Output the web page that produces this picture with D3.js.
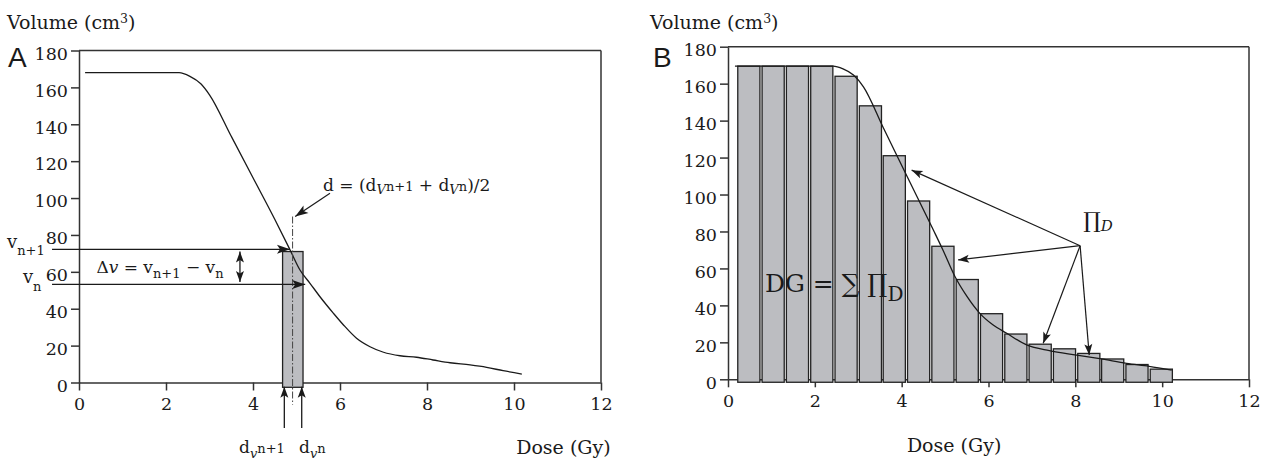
<!DOCTYPE html>
<html><head><meta charset="utf-8">
<script src="https://cdn.jsdelivr.net/npm/d3@7"></script>
<style>
body{margin:0;background:#fff}
svg text{font-family:"DejaVu Serif","Liberation Serif",serif;fill:#1a1a1a}
svg text.panel{font-family:"Liberation Sans",Arial,sans-serif}
</style>
</head><body>
<svg id="c" width="1273" height="460"></svg>
<script>
// ---------- data ----------
const xTicks = [0, 2, 4, 6, 8, 10, 12];
const yTicks = [0, 20, 40, 60, 80, 100, 120, 140, 160, 180];

// Panel A: cumulative DVH curve
const curveADose = [0.14, 2.3, 2.55, 2.8, 3.0, 3.5, 4.0, 4.5, 4.85, 5.08, 5.31, 5.54, 5.85, 6.08, 6.38, 6.69, 7.0, 7.38, 7.76, 8.14, 8.53, 8.99, 9.37, 9.75, 10.18];
const curveAVol  = [168, 168, 166, 162, 156, 133.5, 111, 88.5, 72, 61, 53.8, 46.5, 37.5, 31.2, 24, 19.4, 16.4, 14.5, 13.7, 12.2, 10.7, 9.5, 8.2, 6.4, 4.6];

// Panel B: curve + bars
const curveBDose = [0.16, 2.42, 2.65, 2.89, 3.12, 3.58, 4.12, 4.73, 4.95, 5.23, 5.5, 5.8, 6.1, 6.42, 6.88, 7.4, 8.03, 8.6, 9.18, 9.7, 10.22];
const curveBVol  = [169.5, 169.5, 168, 164.7, 158.3, 136, 110, 80.8, 70, 55.5, 45, 35.7, 29.5, 24.9, 18.6, 15.5, 13.1, 11, 8.6, 7, 5];
const barDose = [0.48, 1.04, 1.60, 2.16, 2.72, 3.28, 3.83, 4.39, 4.95, 5.51, 6.07, 6.63, 7.19, 7.75, 8.31, 8.86, 9.42, 9.98];
const barVol  = [169.5, 169.5, 169.5, 169.5, 164, 148, 121, 96.5, 72, 54, 35.5, 24.5, 19, 16.5, 14, 11, 8, 5.5];
const barWidthGy = 0.51;

// Panel A annotations (data units)
const aVArrows = [[-0.62, 4.85, 72.2], [-0.62, 5.2, 53.2]];   // from dose, to dose, volume
const aBin = [4.68, 5.15, 71];                                 // dose0, dose1, volume
const aMid = [4.91, 90, -12];                                  // dose, top, bottom
const aDv = [3.70, 71, 54.5];                                  // dose, top, bottom
const aDArrow = [[5.77, 102.6], [4.97, 90]];
const aBinArrows = [4.72, 5.12];
// Panel B annotations
const bHub = [8.11, 72.3];
const bTips = [[4.23, 113.2], [5.30, 64.6], [7.26, 19.5], [8.32, 13.1]];

// ---------- scales ----------
const xA = d3.scaleLinear([0, 12], [79, 601]);
const yA = d3.scaleLinear([0, 180], [382.5, 50.5]);
const xB = d3.scaleLinear([0, 12], [728, 1249]);
const yB = d3.scaleLinear([0, 180], [379.3, 46.7]);

const svg = d3.select('#c');
const ink = '#1a1a1a';

// markers
const defs = svg.append('defs');
function mk(id, L, W, back) {
  defs.append('marker').attr('id', id)
    .attr('viewBox', `${-L-1} ${-W/2-1} ${L+2} ${W+2}`)
    .attr('refX', 0).attr('refY', 0)
    .attr('markerUnits', 'userSpaceOnUse')
    .attr('markerWidth', L+2).attr('markerHeight', W+2)
    .attr('orient', 'auto-start-reverse')
    .append('path').attr('d', `M0,0 L${-L},${-W/2} L${-L+back},0 L${-L},${W/2} Z`).attr('fill', ink);
}
mk('ar', 13, 9, 3);
mk('ar2', 11, 8, 2.5);

function frame(x, y) {
  const g = svg.append('g');
  g.append('line').attr('x1', x(0)).attr('x2', x(12)).attr('y1', y(180)).attr('y2', y(180))
    .attr('stroke', '#333').attr('stroke-width', 1.5);
  g.append('line').attr('x1', x(12)).attr('x2', x(12)).attr('y1', y(180)).attr('y2', y(0))
    .attr('stroke', '#333').attr('stroke-width', 1.5);
  const ax = g.append('g').attr('transform', `translate(0,${y(0)})`)
    .call(d3.axisBottom(x).tickValues(xTicks).tickFormat(d3.format('d')).tickSize(8).tickPadding(7.5).tickSizeOuter(0));
  const ay = g.append('g').attr('transform', `translate(${x(0)},0)`)
    .call(d3.axisLeft(y).tickValues(yTicks).tickFormat(d3.format('d')).tickSize(8).tickPadding(3).tickSizeOuter(0));
  [ax, ay].forEach(a => {
    a.select('.domain').attr('stroke', '#333').attr('stroke-width', 1.5);
    a.selectAll('.tick line').attr('stroke', '#333').attr('stroke-width', 1.5);
    a.selectAll('.tick text').style('font-size', '17.5px').attr('fill', ink);
  });
  ay.selectAll('.tick text').attr('dy', '0.5em');
  return g;
}

function rich(x, y, parts, size) {
  const t = svg.append('text').attr('x', x).attr('y', y).attr('font-size', size);
  let cur = 0;
  parts.forEach(p => {
    const off = p.sub || 0;
    const s = t.append('tspan').text(p.t).attr('dy', off - cur);
    cur = off;
    if (p.fs) s.attr('font-size', p.fs);
    if (p.it) s.attr('font-style', 'italic');
  });
  return t;
}

// ---------- Panel A ----------
frame(xA, yA);
const lineA = d3.line().x((d, i) => xA(curveADose[i])).y((d, i) => yA(curveAVol[i])).curve(d3.curveMonotoneX);

// bin rectangle
svg.append('rect').attr('x', xA(aBin[0])).attr('width', xA(aBin[1]) - xA(aBin[0]))
  .attr('y', yA(aBin[2])).attr('height', yA(-2.6) - yA(aBin[2]))
  .attr('fill', '#bcbdc1').attr('stroke', '#222').attr('stroke-width', 1.3);
svg.append('path').attr('d', lineA(curveADose)).attr('fill', 'none').attr('stroke', ink).attr('stroke-width', 1.3);
// dash-dot mid line
svg.append('line').attr('x1', xA(aMid[0])).attr('x2', xA(aMid[0])).attr('y1', yA(aMid[1])).attr('y2', yA(aMid[2]))
  .attr('stroke', '#444').attr('stroke-width', 1).attr('stroke-dasharray', '7,2,1.5,2');
// v arrows
aVArrows.forEach(a => svg.append('line').attr('x1', xA(a[0])).attr('x2', xA(a[1])).attr('y1', yA(a[2])).attr('y2', yA(a[2]))
  .attr('stroke', ink).attr('stroke-width', 1.3).attr('marker-end', 'url(#ar)'));
// delta v double arrow
svg.append('line').attr('x1', xA(aDv[0])).attr('x2', xA(aDv[0])).attr('y1', yA(aDv[1])).attr('y2', yA(aDv[2]))
  .attr('stroke', ink).attr('stroke-width', 1.3).attr('marker-start', 'url(#ar2)').attr('marker-end', 'url(#ar2)');
// d arrow
svg.append('line').attr('x1', xA(aDArrow[0][0])).attr('y1', yA(aDArrow[0][1])).attr('x2', xA(aDArrow[1][0])).attr('y2', yA(aDArrow[1][1]))
  .attr('stroke', ink).attr('stroke-width', 1.2).attr('marker-end', 'url(#ar)');
// bottom arrows
aBinArrows.forEach(d => svg.append('line').attr('x1', xA(d)).attr('x2', xA(d)).attr('y1', yA(-24.7)).attr('y2', yA(-2.3))
  .attr('stroke', ink).attr('stroke-width', 1.3).attr('marker-end', 'url(#ar2)'));

// texts A
rich(xA(-1.655), yA(191.5), [{t: 'Volume (cm'}, {t: '3', fs: 12.5, sub: -6}, {t: ')', sub: 0}], 19);
svg.append('text').attr('class', 'panel').attr('x', xA(-1.63)).attr('y', yA(171)).text('A').attr('font-size', 28);
rich(xA(10.05), yA(-38.6), [{t: 'Dose (Gy)'}], 19);
rich(xA(-1.655), yA(72.9), [{t: 'v'}, {t: 'n+1', fs: 13, sub: 7}], 18);
rich(xA(-1.29), yA(54.1), [{t: 'v'}, {t: 'n', fs: 13, sub: 8}], 18);
rich(xA(0.40), yA(59.5), [{t: 'Δ'}, {t: 'v', it: true}, {t: ' = v'}, {t: 'n+1', fs: 13, sub: 5}, {t: ' − v', sub: 0}, {t: 'n', fs: 13, sub: 5}], 17);
rich(xA(5.61), yA(103.6), [{t: 'd = (d'}, {t: 'V', it: true, fs: 13, sub: 3}, {t: 'n+1', fs: 13}, {t: ' + d', sub: 0}, {t: 'V', it: true, fs: 13, sub: 3}, {t: 'n', fs: 13}, {t: ')/2', sub: 0}], 17);
rich(xA(3.68), yA(-38.3), [{t: 'd'}, {t: 'v', it: true, fs: 13, sub: 5}, {t: 'n+1', fs: 13}], 17);
rich(xA(5.06), yA(-38.3), [{t: 'd'}, {t: 'v', it: true, fs: 13, sub: 5}, {t: 'n', fs: 13}], 17);

// ---------- Panel B ----------
frame(xB, yB);
const bw = xB(barWidthGy) - xB(0);
svg.append('g').selectAll('rect').data(barDose).join('rect')
  .attr('x', (d) => xB(d) - bw / 2).attr('width', bw)
  .attr('y', (d, i) => yB(barVol[i])).attr('height', (d, i) => yB(-1.6) - yB(barVol[i]))
  .attr('fill', '#bcbdc1').attr('stroke', '#222').attr('stroke-width', 1.3);
const lineB = d3.line().x((d, i) => xB(curveBDose[i])).y((d, i) => yB(curveBVol[i])).curve(d3.curveMonotoneX);
svg.append('path').attr('d', lineB(curveBDose)).attr('fill', 'none').attr('stroke', ink).attr('stroke-width', 1.3);
bTips.forEach(t => svg.append('line').attr('x1', xB(bHub[0])).attr('y1', yB(bHub[1])).attr('x2', xB(t[0])).attr('y2', yB(t[1]))
  .attr('stroke', ink).attr('stroke-width', 1.2).attr('marker-end', 'url(#ar2)'));

rich(xB(-1.796), yB(189.6), [{t: 'Volume (cm'}, {t: '3', fs: 12.5, sub: -6}, {t: ')', sub: 0}], 19);
svg.append('text').attr('class', 'panel').attr('x', xB(-1.73)).attr('y', yB(169.2)).text('B').attr('font-size', 28);
rich(xB(4.12), yB(-39.6), [{t: 'Dose (Gy)'}], 19);
rich(xB(0.85), yB(47.4), [{t: 'DG = ∑ ∏'}, {t: 'D', fs: 20, sub: 9}], 25);
rich(xB(8.18), yB(81.7), [{t: '∏'}, {t: 'D', it: true, fs: 15, sub: 3}], 22);
</script>
</body></html>
